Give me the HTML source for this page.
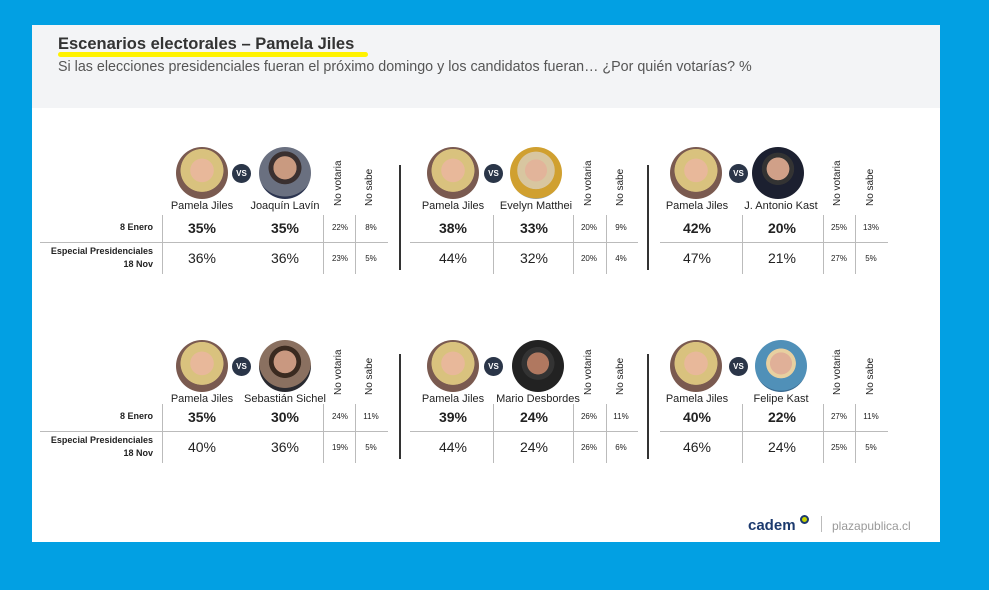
<!DOCTYPE html><html><head><meta charset="utf-8"><style>
*{margin:0;padding:0;box-sizing:border-box}
body{width:989px;height:590px;background:#02a0e3;position:relative;overflow:hidden;font-family:"Liberation Sans",sans-serif;color:#222}
.card{position:absolute;left:32px;top:25px;width:908px;height:517px;background:#fff}
.hdr{position:absolute;left:32px;top:25px;width:908px;height:83px;background:#f3f4f6}
.a{position:absolute}
.ph{position:absolute;width:52px;height:52px;border-radius:50%}
.pj{background:radial-gradient(circle at 50% 45%,#e8b89a 0 30%,#d9c27e 31% 55%,#7a5a50 56% 75%,#222 76%)}
.o1{background:radial-gradient(circle at 50% 40%,#c99a80 0 28%,#3a3030 29% 40%,#6a7080 41% 70%,#2c3550 71%)}
.o2{background:radial-gradient(circle at 50% 45%,#e2b49a 0 28%,#d8c6a0 29% 48%,#d0a030 49% 72%,#88a0b8 73%)}
.o3{background:radial-gradient(circle at 50% 42%,#d0a088 0 28%,#333 29% 40%,#1c2030 41%)}
.o4{background:radial-gradient(circle at 50% 42%,#c99880 0 28%,#3a2a20 29% 40%,#8a7060 41% 65%,#2a2a30 66%)}
.o5{background:radial-gradient(circle at 50% 45%,#b07860 0 28%,#333 29% 42%,#222 43%)}
.o6{background:radial-gradient(circle at 50% 45%,#e0b098 0 28%,#e8d0a0 29% 38%,#5090b8 39% 70%,#3a6a90 71%)}
.vs{position:absolute;width:19px;height:19px;border-radius:50%;background:#2a3548;color:#fff;font-size:8px;font-weight:bold;text-align:center;line-height:19px}
.nm{position:absolute;width:100px;text-align:center;font-size:11px;color:#222}
.rt{position:absolute;transform:rotate(-90deg);transform-origin:left top;font-size:10px;white-space:nowrap}
.v{position:absolute;width:60px;text-align:center;font-size:14px}
.b{font-weight:bold}
.s{position:absolute;width:30px;text-align:center;font-size:8px}
.vl{position:absolute;width:1px;background:#bbb}
.hl{position:absolute;height:1px;background:#bbb}
.sep{position:absolute;width:2px;background:#333}
.lab{position:absolute;right:836px;text-align:right;font-size:9px;font-weight:bold;line-height:13px}
</style></head><body>
<div class="card"></div><div class="hdr"></div>
<div class="a" style="left:58px;top:52px;width:310px;height:5px;background:#fff200;border-radius:3px"></div>
<div class="a" style="left:58px;top:35px;font-size:16.5px;font-weight:bold;color:#333">Escenarios electorales – Pamela Jiles</div>
<div class="a" style="left:58px;top:59px;font-size:14.3px;color:#555">Si las elecciones presidenciales fueran el próximo domingo y los candidatos fueran… ¿Por quién votarías? %</div>

<div class="lab" style="top:221px">8 Enero</div>
<div class="lab" style="top:245px">Especial Presidenciales<br>18 Nov</div>
<div class="lab" style="top:410px">8 Enero</div>
<div class="lab" style="top:434px">Especial Presidenciales<br>18 Nov</div>

<div class="ph pj" style="left:176px;top:147px"></div><div class="vs" style="left:232px;top:164px">VS</div><div class="ph o1" style="left:259px;top:147px"></div>
<div class="nm" style="left:152px;top:200px">Pamela Jiles</div><div class="nm" style="left:235px;top:200px">Joaquín Lavín</div>
<div class="rt" style="left:333px;top:206px">No votaria</div><div class="rt" style="left:364px;top:206px">No sabe</div>
<div class="v b" style="left:172px;top:220px">35%</div><div class="v b" style="left:255px;top:220px">35%</div><div class="s" style="left:325px;top:223px">22%</div><div class="s" style="left:356px;top:223px">8%</div>
<div class="v" style="left:172px;top:250px">36%</div><div class="v" style="left:255px;top:250px">36%</div><div class="s" style="left:325px;top:254px">23%</div><div class="s" style="left:356px;top:254px">5%</div>
<div class="vl" style="left:162px;top:215px;height:59px"></div><div class="vl" style="left:323px;top:215px;height:59px"></div><div class="vl" style="left:355px;top:215px;height:59px"></div>
<div class="hl" style="left:40px;top:242px;width:348px"></div>
<div class="sep" style="left:399px;top:165px;height:105px"></div>

<div class="ph pj" style="left:427px;top:147px"></div><div class="vs" style="left:484px;top:164px">VS</div><div class="ph o2" style="left:510px;top:147px"></div>
<div class="nm" style="left:403px;top:200px">Pamela Jiles</div><div class="nm" style="left:486px;top:200px">Evelyn Matthei</div>
<div class="rt" style="left:583px;top:206px">No votaria</div><div class="rt" style="left:615px;top:206px">No sabe</div>
<div class="v b" style="left:423px;top:220px">38%</div><div class="v b" style="left:504px;top:220px">33%</div><div class="s" style="left:574px;top:223px">20%</div><div class="s" style="left:606px;top:223px">9%</div>
<div class="v" style="left:423px;top:250px">44%</div><div class="v" style="left:504px;top:250px">32%</div><div class="s" style="left:574px;top:254px">20%</div><div class="s" style="left:606px;top:254px">4%</div>
<div class="vl" style="left:493px;top:215px;height:59px"></div><div class="vl" style="left:573px;top:215px;height:59px"></div><div class="vl" style="left:606px;top:215px;height:59px"></div>
<div class="hl" style="left:410px;top:242px;width:228px"></div>
<div class="sep" style="left:647px;top:165px;height:105px"></div>

<div class="ph pj" style="left:670px;top:147px"></div><div class="vs" style="left:729px;top:164px">VS</div><div class="ph o3" style="left:752px;top:147px"></div>
<div class="nm" style="left:647px;top:200px">Pamela Jiles</div><div class="nm" style="left:731px;top:200px">J. Antonio Kast</div>
<div class="rt" style="left:832px;top:206px">No votaria</div><div class="rt" style="left:865px;top:206px">No sabe</div>
<div class="v b" style="left:667px;top:220px">42%</div><div class="v b" style="left:752px;top:220px">20%</div><div class="s" style="left:824px;top:223px">25%</div><div class="s" style="left:856px;top:223px">13%</div>
<div class="v" style="left:667px;top:250px">47%</div><div class="v" style="left:752px;top:250px">21%</div><div class="s" style="left:824px;top:254px">27%</div><div class="s" style="left:856px;top:254px">5%</div>
<div class="vl" style="left:742px;top:215px;height:59px"></div><div class="vl" style="left:823px;top:215px;height:59px"></div><div class="vl" style="left:855px;top:215px;height:59px"></div>
<div class="hl" style="left:660px;top:242px;width:228px"></div>

<div class="ph pj" style="left:176px;top:340px"></div><div class="vs" style="left:232px;top:357px">VS</div><div class="ph o4" style="left:259px;top:340px"></div>
<div class="nm" style="left:152px;top:393px">Pamela Jiles</div><div class="nm" style="left:235px;top:393px">Sebastián Sichel</div>
<div class="rt" style="left:333px;top:395px">No votaria</div><div class="rt" style="left:364px;top:395px">No sabe</div>
<div class="v b" style="left:172px;top:409px">35%</div><div class="v b" style="left:255px;top:409px">30%</div><div class="s" style="left:325px;top:412px">24%</div><div class="s" style="left:356px;top:412px">11%</div>
<div class="v" style="left:172px;top:439px">40%</div><div class="v" style="left:255px;top:439px">36%</div><div class="s" style="left:325px;top:443px">19%</div><div class="s" style="left:356px;top:443px">5%</div>
<div class="vl" style="left:162px;top:404px;height:59px"></div><div class="vl" style="left:323px;top:404px;height:59px"></div><div class="vl" style="left:355px;top:404px;height:59px"></div>
<div class="hl" style="left:40px;top:431px;width:348px"></div>
<div class="sep" style="left:399px;top:354px;height:105px"></div>

<div class="ph pj" style="left:427px;top:340px"></div><div class="vs" style="left:484px;top:357px">VS</div><div class="ph o5" style="left:512px;top:340px"></div>
<div class="nm" style="left:403px;top:393px">Pamela Jiles</div><div class="nm" style="left:488px;top:393px">Mario Desbordes</div>
<div class="rt" style="left:583px;top:395px">No votaria</div><div class="rt" style="left:615px;top:395px">No sabe</div>
<div class="v b" style="left:423px;top:409px">39%</div><div class="v b" style="left:504px;top:409px">24%</div><div class="s" style="left:574px;top:412px">26%</div><div class="s" style="left:606px;top:412px">11%</div>
<div class="v" style="left:423px;top:439px">44%</div><div class="v" style="left:504px;top:439px">24%</div><div class="s" style="left:574px;top:443px">26%</div><div class="s" style="left:606px;top:443px">6%</div>
<div class="vl" style="left:493px;top:404px;height:59px"></div><div class="vl" style="left:573px;top:404px;height:59px"></div><div class="vl" style="left:606px;top:404px;height:59px"></div>
<div class="hl" style="left:410px;top:431px;width:228px"></div>
<div class="sep" style="left:647px;top:354px;height:105px"></div>

<div class="ph pj" style="left:670px;top:340px"></div><div class="vs" style="left:729px;top:357px">VS</div><div class="ph o6" style="left:755px;top:340px"></div>
<div class="nm" style="left:647px;top:393px">Pamela Jiles</div><div class="nm" style="left:731px;top:393px">Felipe Kast</div>
<div class="rt" style="left:832px;top:395px">No votaria</div><div class="rt" style="left:865px;top:395px">No sabe</div>
<div class="v b" style="left:667px;top:409px">40%</div><div class="v b" style="left:752px;top:409px">22%</div><div class="s" style="left:824px;top:412px">27%</div><div class="s" style="left:856px;top:412px">11%</div>
<div class="v" style="left:667px;top:439px">46%</div><div class="v" style="left:752px;top:439px">24%</div><div class="s" style="left:824px;top:443px">25%</div><div class="s" style="left:856px;top:443px">5%</div>
<div class="vl" style="left:742px;top:404px;height:59px"></div><div class="vl" style="left:823px;top:404px;height:59px"></div><div class="vl" style="left:855px;top:404px;height:59px"></div>
<div class="hl" style="left:660px;top:431px;width:228px"></div>

<div class="a" style="left:748px;top:517px;font-size:15px;color:#1c3a6e;font-weight:bold">cadem</div>
<div class="a" style="left:800px;top:515px;width:9px;height:9px;border-radius:50%;border:2px solid #1c3a6e;background:#c8d400"></div>
<div class="a" style="left:821px;top:516px;width:1px;height:16px;background:#bbb"></div>
<div class="a" style="left:832px;top:519px;font-size:12px;color:#999">plazapublica.cl</div>
</body></html>
